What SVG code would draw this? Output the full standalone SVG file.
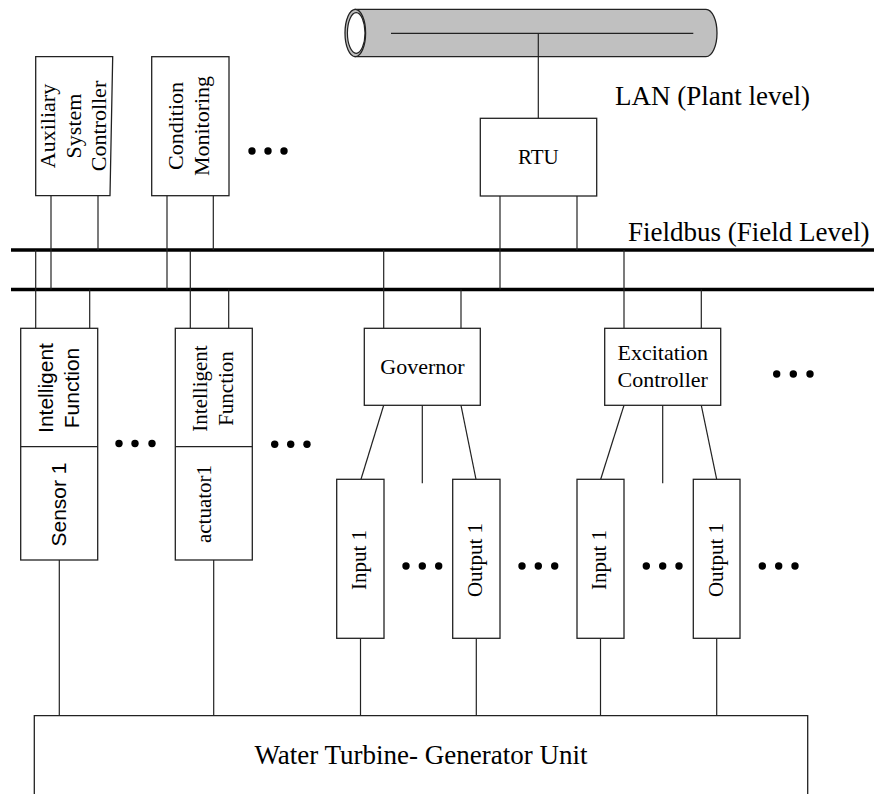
<svg xmlns="http://www.w3.org/2000/svg" width="874" height="794" viewBox="0 0 874 794">
<style>
.box{fill:#fff;stroke:#222;stroke-width:1.3}
.ln{stroke:#222;stroke-width:1.2;fill:none}
.bus{stroke:#000;stroke-width:3.5}
.serif{font-family:"Liberation Serif","Times New Roman",serif;fill:#000}
.sans{font-family:"Liberation Sans",Arial,sans-serif;fill:#000}
.dot{fill:#000}
</style>
<rect width="874" height="794" fill="#fff"/>

<g id="lan">
<path d="M355,9.3 H706 A11,23.7 0 0 1 706,56.7 H355 Z" fill="#c0c0c0" stroke="#222" stroke-width="1.3"/>
<ellipse cx="355.3" cy="33" rx="10.3" ry="23.7" fill="#c0c0c0" stroke="#222" stroke-width="1.3"/>
<ellipse cx="356.2" cy="33" rx="8.8" ry="20.3" fill="#fff" stroke="#222" stroke-width="1.2"/>
<line x1="391" y1="33.3" x2="693.3" y2="33.3" class="ln"/>
<text x="615" y="105" class="serif" font-size="27">LAN (Plant level)</text>
</g>

<g id="fieldbus">
<line x1="11" y1="250" x2="874" y2="250" class="bus"/>
<line x1="11" y1="289.5" x2="874" y2="289.5" class="bus"/>
<text x="628" y="240.7" class="serif" font-size="27">Fieldbus (Field Level)</text>
</g>

<g id="connectors">
<line x1="538.3" y1="33.3" x2="538.3" y2="118.3" class="ln"/>
<line x1="51" y1="196" x2="51" y2="289.5" class="ln"/>
<line x1="98" y1="196" x2="98" y2="250" class="ln"/>
<line x1="167" y1="196" x2="167" y2="289.5" class="ln"/>
<line x1="213.3" y1="196" x2="213.3" y2="250" class="ln"/>
<line x1="500" y1="196" x2="500" y2="289.5" class="ln"/>
<line x1="577" y1="196" x2="577" y2="250" class="ln"/>
<line x1="35.7" y1="250" x2="35.7" y2="328.3" class="ln"/>
<line x1="89.7" y1="289.5" x2="89.7" y2="328.3" class="ln"/>
<line x1="190.3" y1="250" x2="190.3" y2="328.3" class="ln"/>
<line x1="228.7" y1="289.5" x2="228.7" y2="328.3" class="ln"/>
<line x1="383.7" y1="250" x2="383.7" y2="328.3" class="ln"/>
<line x1="461" y1="289.5" x2="461" y2="328.3" class="ln"/>
<line x1="624" y1="250" x2="624" y2="328.3" class="ln"/>
<line x1="701.3" y1="289.5" x2="701.3" y2="328.3" class="ln"/>
<line x1="383.7" y1="405.3" x2="361" y2="479.3" class="ln"/>
<line x1="422.3" y1="405.3" x2="422.3" y2="483.3" class="ln"/>
<line x1="461" y1="405.3" x2="476" y2="479.3" class="ln"/>
<line x1="624" y1="405.3" x2="600.7" y2="479.3" class="ln"/>
<line x1="662.7" y1="405.3" x2="662.7" y2="483.3" class="ln"/>
<line x1="701.3" y1="405.3" x2="716.7" y2="479.3" class="ln"/>
<line x1="59.3" y1="560" x2="59.3" y2="715.7" class="ln"/>
<line x1="213.7" y1="560" x2="213.7" y2="715.7" class="ln"/>
<line x1="360.5" y1="638.3" x2="360.5" y2="715.7" class="ln"/>
<line x1="476.3" y1="638.3" x2="476.3" y2="715.7" class="ln"/>
<line x1="600.5" y1="638.3" x2="600.5" y2="715.7" class="ln"/>
<line x1="716.7" y1="638.3" x2="716.7" y2="715.7" class="ln"/>
</g>

<g id="aux">
<polygon points="35.7,56.7 112.7,56.7 110,195.7 35.7,195.7" class="box"/>
<g transform="translate(0,126) rotate(-90)" class="serif" font-size="22" text-anchor="middle">
<text x="0" y="54.6">Auxiliary</text>
<text x="0" y="80.6">System</text>
<text x="0" y="106.3">Controller</text>
</g>
</g>

<g id="condition">
<rect x="151.7" y="56.7" width="77.3" height="139" class="box"/>
<g transform="translate(0,126) rotate(-90)" class="serif" font-size="22" text-anchor="middle">
<text x="0" y="183">Condition</text>
<text x="0" y="209.3">Monitoring</text>
</g>
</g>

<g id="rtu">
<rect x="480.3" y="118.3" width="116.4" height="77.7" class="box"/>
<text x="538.3" y="164" class="serif" font-size="21" text-anchor="middle">RTU</text>
</g>

<g id="sensor1">
<rect x="20.7" y="328.3" width="77" height="231.7" class="box"/>
<line x1="20.7" y1="446.7" x2="97.7" y2="446.7" class="ln"/>
<g transform="translate(0,388) rotate(-90)" class="sans" font-size="21" text-anchor="middle">
<text x="0" y="53">Intelligent</text>
<text x="0" y="79">Function</text>
</g>
<text transform="translate(65.5,504.5) rotate(-90)" x="0" y="0" class="sans" font-size="21" text-anchor="middle">Sensor 1</text>
</g>

<g id="actuator1">
<rect x="175.3" y="328.3" width="77" height="231.7" class="box"/>
<line x1="175.3" y1="446.7" x2="252.3" y2="446.7" class="ln"/>
<g transform="translate(0,388.5) rotate(-90)" class="serif" font-size="21" text-anchor="middle">
<text x="0" y="206.6">Intelligent</text>
<text x="0" y="233">Function</text>
</g>
<text transform="translate(211,504) rotate(-90)" x="0" y="0" class="serif" font-size="21" text-anchor="middle">actuator1</text>
</g>

<g id="governor">
<rect x="364.3" y="328.3" width="116" height="77" class="box"/>
<text x="422.5" y="374" class="serif" font-size="22" text-anchor="middle">Governor</text>
</g>

<g id="excitation">
<rect x="604.7" y="328.3" width="116" height="77" class="box"/>
<text x="662.7" y="360" class="serif" font-size="22" text-anchor="middle">Excitation</text>
<text x="662.7" y="387.3" class="serif" font-size="22" text-anchor="middle">Controller</text>
</g>

<g id="gov-input1">
<rect x="336.7" y="479.3" width="47.3" height="159" class="box"/>
<text transform="translate(366,560) rotate(-90)" class="serif" font-size="21" text-anchor="middle">Input 1</text>
</g>
<g id="gov-output1">
<rect x="452.7" y="479.3" width="47.3" height="159" class="box"/>
<text transform="translate(482,560) rotate(-90)" class="serif" font-size="21" text-anchor="middle">Output 1</text>
</g>
<g id="exc-input1">
<rect x="577" y="479.3" width="47" height="159" class="box"/>
<text transform="translate(606.3,560) rotate(-90)" class="serif" font-size="21" text-anchor="middle">Input 1</text>
</g>
<g id="exc-output1">
<rect x="693.3" y="479.3" width="46.7" height="159" class="box"/>
<text transform="translate(722.5,560) rotate(-90)" class="serif" font-size="21" text-anchor="middle">Output 1</text>
</g>

<g id="turbine">
<path d="M34.3,800 V715.7 H807.7 V800" class="box"/>
<text x="421" y="764" class="serif" font-size="27" text-anchor="middle">Water Turbine- Generator Unit</text>
</g>

<g id="ellipses" class="dot">
<circle cx="252" cy="151" r="3.7"/><circle cx="268" cy="151" r="3.7"/><circle cx="284" cy="151" r="3.7"/>
<circle cx="119" cy="443.5" r="3.7"/><circle cx="135" cy="443.5" r="3.7"/><circle cx="152" cy="443.5" r="3.7"/>
<circle cx="274.7" cy="444.3" r="3.7"/><circle cx="290.7" cy="444.3" r="3.7"/><circle cx="307" cy="444.3" r="3.7"/>
<circle cx="776.7" cy="374" r="3.7"/><circle cx="793.3" cy="374" r="3.7"/><circle cx="810" cy="374" r="3.7"/>
<circle cx="406" cy="566" r="3.7"/><circle cx="422.3" cy="566" r="3.7"/><circle cx="438.7" cy="566" r="3.7"/>
<circle cx="522" cy="566" r="3.7"/><circle cx="538.3" cy="566" r="3.7"/><circle cx="554.7" cy="566" r="3.7"/>
<circle cx="646.3" cy="566" r="3.7"/><circle cx="662.7" cy="566" r="3.7"/><circle cx="679" cy="566" r="3.7"/>
<circle cx="762.3" cy="566" r="3.7"/><circle cx="778.7" cy="566" r="3.7"/><circle cx="795" cy="566" r="3.7"/>
</g>
</svg>
